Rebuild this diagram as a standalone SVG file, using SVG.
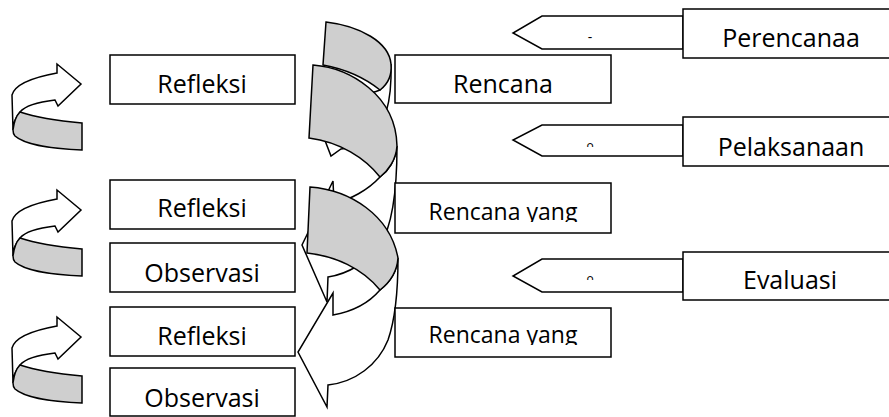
<svg xmlns="http://www.w3.org/2000/svg" width="889" height="417" viewBox="0 0 889 417">
<style>
.box{fill:#fff;stroke:#000;stroke-width:1.5}
.lbl{font-family:"Open Sans","Liberation Sans",sans-serif;font-size:25px;fill:#000;text-anchor:middle}
.sm{font-size:23px}
.frag{font-family:"Open Sans","Liberation Sans",sans-serif;fill:#000;text-anchor:middle}
.w{fill:#fff;stroke:#000;stroke-width:1.5;stroke-linejoin:miter}
.g{fill:#cfcfcf;stroke:#000;stroke-width:1.5}
</style>
<defs>
<clipPath id="c1"><rect x="395" y="183" width="216" height="39"/></clipPath>
<clipPath id="c2"><rect x="395" y="308" width="216" height="37"/></clipPath>
<clipPath id="f2"><rect x="580" y="140" width="20" height="7"/></clipPath>
<clipPath id="f3"><rect x="580" y="273" width="20" height="7"/></clipPath>
<g id="uturn">
<path class="w" d="M57,73 L57,64 L81,84 L58,106 L55,100 C38,102 25,106 20,112 C16,117 13,123 13,130 L12,95 C15,84 35,77 57,73 Z"/>
<path class="g" d="M20,112 C35,117 60,121 82,123 L82,150 C55,149 25,145 15,136 C13,134 13,132 13,130 C14,122 16,116 20,112 Z"/>
</g>
</defs>
<g id="connectors">
<use href="#uturn"/>
<use href="#uturn" transform="translate(0,126)"/>
<use href="#uturn" transform="translate(0,253)"/>
<polygon class="w" points="683,16 542,16 513,33 542,49 683,49"/>
<polygon class="w" points="683,125 542,125 513,140 542,156 683,156"/>
<polygon class="w" points="683,259 542,259 513,276 542,292 683,292"/>
<g id="spiral">
<path class="w" d="M391,64 C392,100 385,128 368,140 C360,145 350,148 341,149 L331,156 L314,112 L334,80 L335,98 C352,97 368,95 380,90 C386,84 390,76 391,64 Z"/>
<path class="g" d="M326,22 C360,26 389,42 391,64 C392,75 388,84 380,90 C365,78 345,69 323,65 Z"/>
<path class="w" d="M397,146 C397,185 393,225 380,245 C368,262 348,274 328,277 L327,302 L302,245 L333,181 L334,203 C350,200 368,190 380,177 C388,171 396,160 397,146 Z"/>
<path class="g" d="M313,65 C350,68 396,95 397,146 C396,160 388,171 380,177 C365,158 340,142 309,138 Z"/>
<path class="w" d="M398,258 C398,290 395,320 388,340 C378,365 355,382 328,385 L327,407 L298,352 L333,293 L333,315 C350,312 368,304 380,290 C389,283 397,272 398,258 Z"/>
<path class="g" d="M310,187 C350,190 390,215 398,258 C397,272 389,283 380,290 C362,268 335,256 307,253 Z"/>
</g>
<text class="frag" x="590" y="42" font-size="14">-</text>
<text class="frag" x="590" y="149.5" font-size="12" clip-path="url(#f2)">o</text>
<text class="frag" x="590" y="282.5" font-size="12" clip-path="url(#f3)">o</text>
</g>
<g id="refleksi1"><rect class="box" x="110" y="55" width="185" height="49"/><text class="lbl" x="202" y="93">Refleksi</text></g>
<g id="rencana"><rect class="box" x="395" y="55" width="216" height="48"/><text class="lbl" x="503" y="93">Rencana</text></g>
<g id="perencanaan"><rect class="box" x="683" y="9" width="212" height="49"/><text class="lbl" x="791" y="47">Perencanaa</text></g>
<g id="pelaksanaan"><rect class="box" x="683" y="117" width="212" height="49"/><text class="lbl" x="791" y="156">Pelaksanaan</text></g>
<g id="refleksi2"><rect class="box" x="110" y="180" width="185" height="49"/><text class="lbl" x="202" y="217">Refleksi</text></g>
<g id="rencanayang1"><rect class="box" x="395" y="183" width="216" height="50"/><text class="lbl sm" x="503" y="220" clip-path="url(#c1)">Rencana yang</text></g>
<g id="observasi1"><rect class="box" x="110" y="243" width="185" height="49"/><text class="lbl" x="202" y="282">Observasi</text></g>
<g id="evaluasi"><rect class="box" x="683" y="252" width="212" height="48"/><text class="lbl" x="790" y="289">Evaluasi</text></g>
<g id="refleksi3"><rect class="box" x="110" y="307" width="185" height="49"/><text class="lbl" x="202" y="345">Refleksi</text></g>
<g id="rencanayang2"><rect class="box" x="395" y="308" width="216" height="49"/><text class="lbl sm" x="503" y="343" clip-path="url(#c2)">Rencana yang</text></g>
<g id="observasi2"><rect class="box" x="110" y="368" width="185" height="48"/><text class="lbl" x="202" y="407">Observasi</text></g>
</svg>
